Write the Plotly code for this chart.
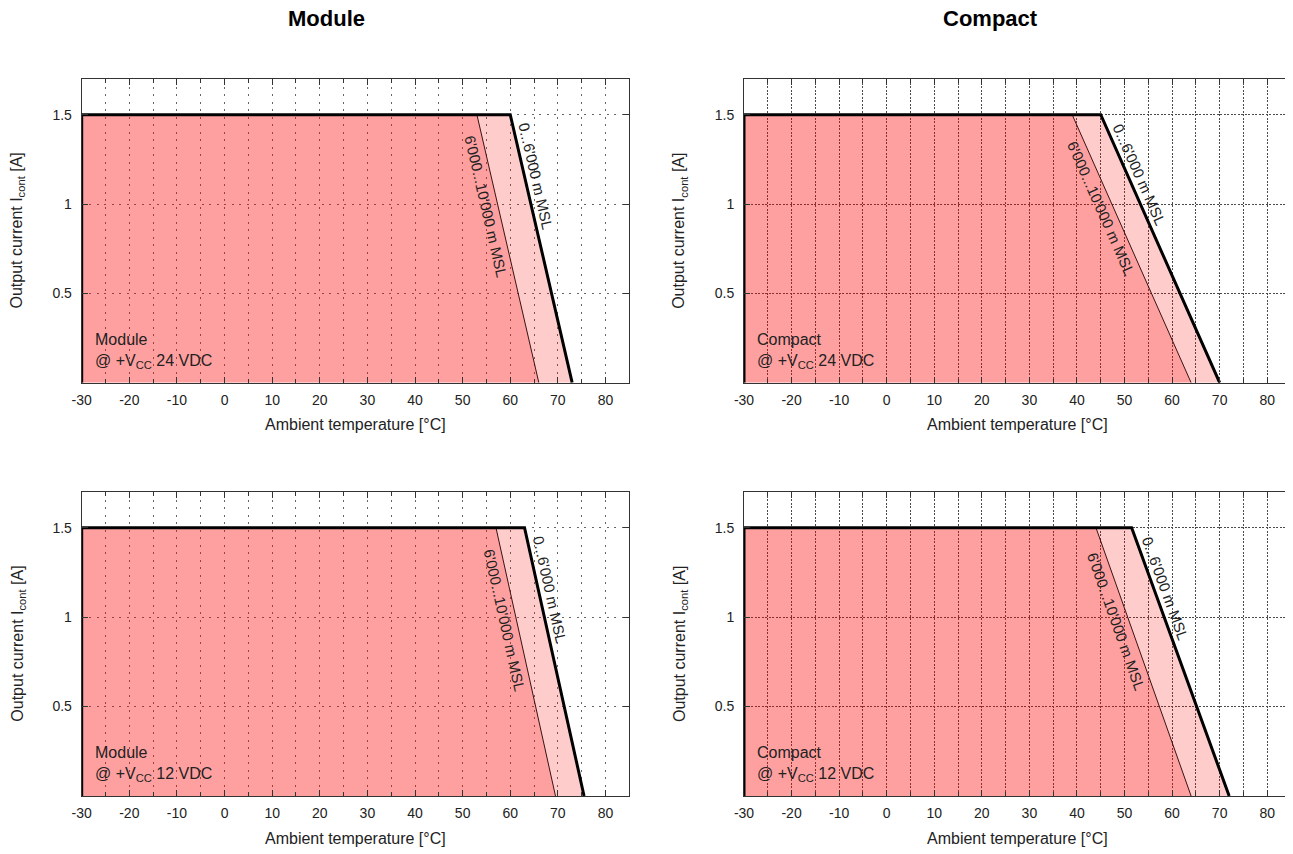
import math
import plotly.graph_objects as go
from plotly.subplots import make_subplots

# ---------------- data ----------------
panel_names = ["Module", "Compact", "Module", "Compact"]
panel_supply = ["24 VDC", "24 VDC", "12 VDC", "12 VDC"]
panel_rows = [1, 1, 2, 2]
panel_cols = [1, 2, 1, 2]

I_max = 1.5                    # A, continuous output current plateau
T_min = -30                    # °C, left end of curves

# 0...6'000 m MSL derating (thick line)
low_alt_knee = [60, 45, 63, 51.5]      # °C where derating starts
low_alt_zero = [73, 70, 75.5, 72]      # °C where current reaches 0
# 6'000...10'000 m MSL derating (thin line)
high_alt_knee = [53, 39, 57, 44]
high_alt_zero = [66, 64, 69.5, 64]

x_tick_vals = [-30, -20, -10, 0, 10, 20, 30, 40, 50, 60, 70, 80]
x_tick_text = ["-30", "-20", "-10", "0", "10", "20", "30", "40", "50", "60", "70", "80"]
y_tick_vals = [0.5, 1, 1.5]
y_tick_text = ["0.5", "1", "1.5"]

column_titles = ["Module", "Compact"]
x_title = "Ambient temperature [°C]"
y_title = "Output current I<sub>cont</sub> [A]"
label_low = "0...6'000 m MSL"
label_high = "6'000...10'000 m MSL"

# ---------------- layout constants ----------------
OFF = 8                         # page body margin of the html page
W, H = 1293 - OFF, 854 - OFF
X_RANGE = [-30, 85]
Y_RANGE = [0, 1.7]
x_dom_px = {1: (81.7 - OFF, 629.3 - OFF), 2: (744.0 - OFF, 1291.0 - OFF)}
y_dom_px = {1: (79.0 - OFF, 382.7 - OFF), 2: (492.0 - OFF, 796.0 - OFF)}

FONT = "Liberation Sans, Arial, Helvetica, sans-serif"
TXT = "#222222"
DARK_FILL = "rgba(255,0,0,0.373)"
LIGHT_FILL = "rgba(255,0,0,0.2)"

fig = make_subplots(rows=2, cols=2)

def axis_names(r, c):
    idx = (r - 1) * 2 + c
    s = "" if idx == 1 else str(idx)
    return "xaxis" + s, "yaxis" + s, "x" + s, "y" + s

annotations = []

for i in range(4):
    r, c = panel_rows[i], panel_cols[i]
    xa, ya, xr, yr = axis_names(r, c)
    compact = panel_names[i] == "Compact"
    grid_dash = "2px,1.5px" if compact else "2px,5.5px"
    grid_col = "#4a4a4a" if compact else "#666666"

    # fills
    fig.add_trace(go.Scatter(
        x=[T_min, T_min, high_alt_knee[i], high_alt_zero[i]],
        y=[0, I_max, I_max, 0],
        fill="toself", fillcolor=DARK_FILL, mode="none", hoverinfo="skip"),
        row=r, col=c)
    fig.add_trace(go.Scatter(
        x=[high_alt_knee[i], low_alt_knee[i], low_alt_zero[i], high_alt_zero[i]],
        y=[I_max, I_max, 0, 0],
        fill="toself", fillcolor=LIGHT_FILL, mode="none", hoverinfo="skip"),
        row=r, col=c)
    # thin line (high altitude)
    fig.add_trace(go.Scatter(
        x=[high_alt_knee[i], high_alt_zero[i]], y=[I_max, 0],
        mode="lines", line=dict(color="#3a1212", width=1), hoverinfo="skip"),
        row=r, col=c)
    # thick line (low altitude)
    fig.add_trace(go.Scatter(
        x=[T_min, T_min, low_alt_knee[i], low_alt_zero[i]],
        y=[0, I_max, I_max, 0],
        mode="lines", line=dict(color="black", width=3), hoverinfo="skip"),
        row=r, col=c)

    x0p, x1p = x_dom_px[c]
    y0p, y1p = y_dom_px[r]
    fig.update_layout(**{
        xa: dict(domain=[x0p / W, x1p / W], range=X_RANGE, automargin=False,
                 tickmode="array", tickvals=x_tick_vals, ticktext=x_tick_text,
                 ticks="inside", ticklen=6, tickcolor="#333", tickwidth=1,
                 showline=True, linecolor="#333", linewidth=1, mirror="ticks",
                 showgrid=True, gridcolor=grid_col, griddash=grid_dash, gridwidth=1,
                 zeroline=False, tickfont=dict(family=FONT, size=14, color=TXT),
                 ticklabelstandoff=4,
                 minor=dict(tick0=-30, dtick=5, ticks="inside", ticklen=4,
                            tickcolor="#333", showgrid=True, gridcolor=grid_col,
                            griddash=grid_dash, gridwidth=1),
                 fixedrange=True),
        ya: dict(domain=[1 - y1p / H, 1 - y0p / H], range=Y_RANGE, automargin=False,
                 tickmode="array", tickvals=y_tick_vals, ticktext=y_tick_text,
                 ticks="inside", ticklen=6, tickcolor="#333", tickwidth=1,
                 showline=True, linecolor="#333", linewidth=1, mirror="ticks",
                 showgrid=True, gridcolor=grid_col, griddash=grid_dash, gridwidth=1,
                 zeroline=False, tickfont=dict(family=FONT, size=14, color=TXT),
                 ticklabelstandoff=6, fixedrange=True),
    })

    # pixel scales for rotated labels
    sx = (x1p - x0p) / (X_RANGE[1] - X_RANGE[0])
    sy = (y1p - y0p) / (Y_RANGE[1] - Y_RANGE[0])

    def line_label(knee, zero, level, text, offset):
        dx = (zero - knee) * sx
        dy = I_max * sy
        L = math.hypot(dx, dy)
        ang = math.degrees(math.atan2(dy, dx))
        xt = knee + (zero - knee) * (I_max - level) / I_max
        return dict(x=xt, y=level, xref=xr, yref=yr, text=text, showarrow=False,
                    textangle=ang, xanchor="center", yanchor="middle",
                    xshift=dy / L * offset, yshift=dx / L * offset,
                    font=dict(family=FONT, size=15, color=TXT))

    annotations.append(line_label(low_alt_knee[i], low_alt_zero[i], 1.14, label_low, 11))
    annotations.append(line_label(high_alt_knee[i], high_alt_zero[i], 1.0, label_high, -12))

    # in-plot caption
    annotations.append(dict(
        x=T_min, y=0, xref=xr, yref=yr, xanchor="left", yanchor="bottom",
        xshift=11, yshift=10, align="left", showarrow=False,
        text=panel_names[i] + "<br>@ +V<sub>CC</sub> " + panel_supply[i],
        font=dict(family=FONT, size=16, color=TXT)))

    # axis titles
    annotations.append(dict(
        x=((x0p + x1p) / 2) / W, y=1 - (y1p + 42) / H, xref="paper", yref="paper",
        text=x_title, showarrow=False, xanchor="center", yanchor="middle",
        font=dict(family=FONT, size=16, color=TXT)))
    annotations.append(dict(
        x=(x0p - 64) / W, y=1 - ((y0p + y1p) / 2) / H, xref="paper", yref="paper",
        text=y_title, showarrow=False, textangle=-90, xanchor="center", yanchor="middle",
        font=dict(family=FONT, size=16, color=TXT)))

# column titles
for px, t in zip([326, 991], column_titles):
    annotations.append(dict(
        x=(px - OFF) / W, y=1 - (19 - OFF) / H, xref="paper", yref="paper",
        text="<b>" + t + "</b>",
        showarrow=False, xanchor="center", yanchor="middle",
        font=dict(family=FONT, size=22, color="black")))

fig.update_layout(
    width=W, height=H, margin=dict(l=0, r=0, t=0, b=0, autoexpand=False),
    paper_bgcolor="white", plot_bgcolor="white", showlegend=False,
    annotations=annotations, font=dict(family=FONT, color=TXT))

fig.write_html("out.html")
